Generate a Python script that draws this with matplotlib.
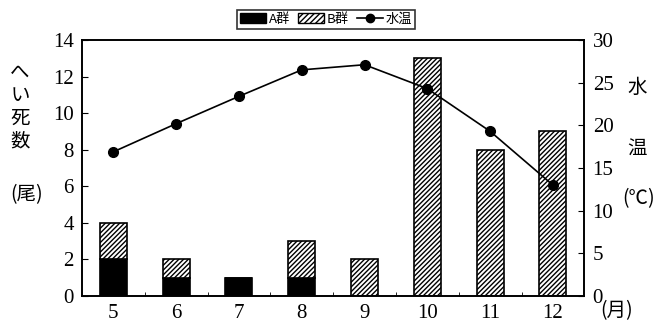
import matplotlib
matplotlib.use("Agg")
import matplotlib.pyplot as plt
import numpy as np
from matplotlib.patches import Patch
from matplotlib.lines import Line2D

plt.rcParams['hatch.linewidth'] = 1.0

months = ["5", "6", "7", "8", "9", "10", "11", "12"]
group_a = [2, 1, 1, 1, 0, 0, 0, 0]
group_b = [2, 1, 0, 2, 2, 13, 8, 9]
water_temp = [16.9, 20.2, 23.4, 26.5, 27.1, 24.3, 19.3, 13.0]

serif = ['Liberation Serif', 'DejaVu Serif']
jp = ['Noto Sans CJK JP', 'DejaVu Sans']

fig = plt.figure(figsize=(6.67, 3.25), dpi=100)
ax = fig.add_axes([0.123, 0.089, 0.753, 0.788])
x = np.arange(len(months))
w = 0.43
ax.bar(x, group_a, width=w, color='black', edgecolor='black', linewidth=1.2, zorder=2)
ax.bar(x, group_b, width=w, bottom=group_a, color='white', edgecolor='black',
       hatch='///////', linewidth=1.2, zorder=2)
ax.set_xlim(-0.5, len(months) - 0.5)
ax.set_ylim(0, 14)
ax.set_yticks(np.arange(0, 15, 2))
ax.set_yticklabels([str(v) for v in range(0, 15, 2)], fontfamily=serif, fontsize=15)
ax.set_xticks(x)
ax.set_xticklabels(months, fontfamily=serif, fontsize=15)
ax.tick_params(axis='x', length=0, pad=6)
ax.set_xticks(np.arange(0.5, len(months) - 0.5, 1), minor=True)
ax.tick_params(axis='x', which='minor', direction='in', length=3)
ax.tick_params(axis='y', direction='in', length=4, pad=6)
for s in ax.spines.values():
    s.set_linewidth(1.2)

ax2 = ax.twinx()
ax2.plot(x, water_temp, color='black', marker='o', markersize=7, linewidth=1.2, zorder=3)
ax2.set_ylim(0, 30)
ax2.set_yticks(np.arange(0, 31, 5))
ax2.set_yticklabels([str(v) for v in range(0, 31, 5)], fontfamily=serif, fontsize=15)
ax2.tick_params(axis='y', direction='in', length=4, pad=6)
for s in ax2.spines.values():
    s.set_linewidth(1.2)

# left axis label
for ch, yy in zip("へい死数", [0.775, 0.705, 0.635, 0.565]):
    fig.text(0.030, yy, ch, fontfamily=jp, fontsize=14, ha='center', va='center')
fig.text(0.040, 0.40, "(尾)", fontfamily=jp, fontsize=14, ha='center', va='center')
# right axis label
fig.text(0.955, 0.73, "水", fontfamily=jp, fontsize=14, ha='center', va='center')
fig.text(0.955, 0.54, "温", fontfamily=jp, fontsize=14, ha='center', va='center')
fig.text(0.957, 0.39, "(℃)", fontfamily=jp, fontsize=14, ha='center', va='center')
fig.text(0.925, 0.045, "(月)", fontfamily=jp, fontsize=14, ha='center', va='center')

handles = [Patch(facecolor='black', edgecolor='black'),
           Patch(facecolor='white', edgecolor='black', hatch='//////'),
           Line2D([0], [0], color='black', marker='o', markersize=6, linewidth=1.2)]
leg = fig.legend(handles, ["A群", "B群", "水温"], loc='center', bbox_to_anchor=(0.489, 0.94),
                 ncol=3, frameon=True, fancybox=False, edgecolor='black',
                 prop={'family': jp, 'size': 9.5}, handlelength=2.0, handleheight=0.8,
                 handletextpad=0.2, columnspacing=0.6, borderpad=0.2, borderaxespad=0)
leg.get_frame().set_linewidth(1.2)

fig.savefig("out.png", dpi=100)
